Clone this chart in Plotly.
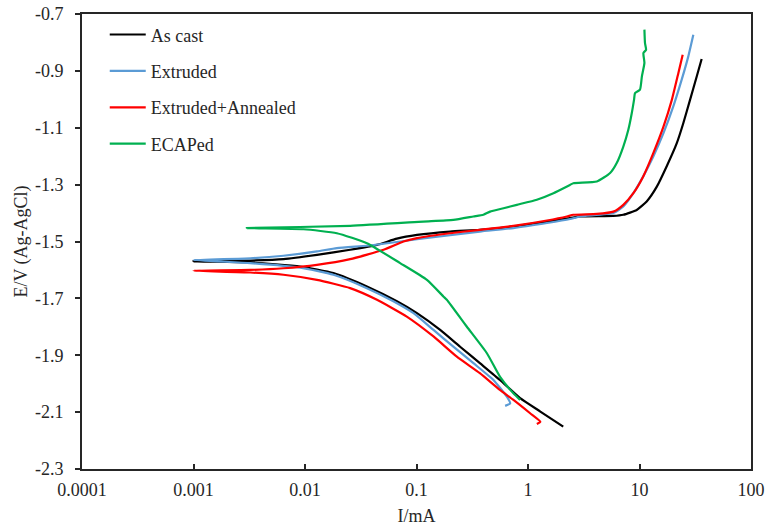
import plotly.graph_objects as go

# ---------------- data (current in mA, potential in V vs Ag-AgCl) ----------------
series_names = ["As cast", "Extruded", "Extruded+Annealed", "ECAPed"]
series_colors = ["#000000", "#5B9BD5", "#FF0000", "#00B050"]

as_cast_i = [2.07, 1.29, 0.85, 0.56, 0.37, 0.246, 0.163, 0.101, 0.0667, 0.0359, 0.018,
             0.00906, 0.00323, 0.001,
             0.00323, 0.00641, 0.0128, 0.0254, 0.0442, 0.0667, 0.101, 0.2, 0.37, 0.74,
             1.48, 2.38, 2.93, 5.83, 7.16, 9.44, 11.6, 14.3, 17.5, 21.6, 24.7, 28.4,
             32.6, 36.1]
as_cast_e = [-2.151, -2.098, -2.051, -1.987, -1.928, -1.870, -1.811, -1.752, -1.710,
             -1.658, -1.611, -1.588, -1.574, -1.570,
             -1.567, -1.562, -1.547, -1.529, -1.512, -1.490, -1.477, -1.465, -1.459,
             -1.447, -1.430, -1.418, -1.412, -1.410, -1.406, -1.389, -1.359, -1.307,
             -1.236, -1.154, -1.084, -1.002, -0.920, -0.858]

extruded_i = [0.624, 0.692, 0.646, 0.49, 0.324, 0.214, 0.142, 0.094, 0.062, 0.0359,
              0.018, 0.00906, 0.00323, 0.001,
              0.00323, 0.00641, 0.0128, 0.0193, 0.0359, 0.0506, 0.101, 0.2, 0.37,
              0.74, 1.48, 2.38, 2.93, 5.83, 7.16, 8.81, 10.8, 13.3, 16.4, 20.1, 23.9,
              27.4, 30.4]
extruded_e = [-2.078, -2.069, -2.046, -1.987, -1.928, -1.870, -1.811, -1.752, -1.710,
              -1.664, -1.617, -1.592, -1.576, -1.565,
              -1.559, -1.550, -1.535, -1.523, -1.515, -1.508, -1.492, -1.478, -1.465,
              -1.453, -1.435, -1.421, -1.412, -1.400, -1.377, -1.330, -1.271, -1.201,
              -1.119, -1.025, -0.931, -0.849, -0.773]

annealed_i = [1.2, 1.29, 1.045, 0.74, 0.56, 0.37, 0.23, 0.142, 0.0818, 0.0442, 0.0254,
              0.0128, 0.00641, 0.00323, 0.001,
              0.00323, 0.00641, 0.0128, 0.0254, 0.0506, 0.0764, 0.101, 0.2, 0.37,
              0.74, 1.48, 2.23, 2.55, 4.14, 5.83, 7.16, 8.81, 10.8, 13.3, 16.4, 19.5,
              22.3, 24.4]
annealed_e = [-2.142, -2.134, -2.104, -2.057, -2.022, -1.963, -1.905, -1.834, -1.764,
              -1.705, -1.664, -1.635, -1.617, -1.609, -1.603,
              -1.600, -1.594, -1.582, -1.562, -1.529, -1.500, -1.488, -1.471, -1.459,
              -1.445, -1.426, -1.412, -1.406, -1.403, -1.395, -1.371, -1.330, -1.271,
              -1.189, -1.096, -1.002, -0.908, -0.843]

ecaped_i = [0.85, 0.74, 0.56, 0.428, 0.282, 0.187, 0.175, 0.124, 0.0713, 0.0359,
            0.0193, 0.0097, 0.00301,
            0.0254, 0.115, 0.214, 0.324, 0.398, 0.457, 0.603, 0.794, 1.2, 1.69, 2.38,
            2.55, 4.14, 5.45, 6.25, 7.16, 7.94, 8.53, 8.93, 9.12, 10.1, 10.5, 11.07,
            10.84, 11.45, 11.2, 11.07]
ecaped_e = [-2.057, -2.034, -1.975, -1.893, -1.799, -1.705, -1.694, -1.635, -1.576,
            -1.506, -1.471, -1.457, -1.453,
            -1.445, -1.430, -1.424, -1.412, -1.406, -1.395, -1.383, -1.371, -1.353,
            -1.330, -1.301, -1.295, -1.289, -1.259, -1.224, -1.166, -1.107, -1.048,
            -1.002, -0.978, -0.966, -0.920, -0.872, -0.837, -0.826, -0.802, -0.755]

x_tick_vals = [0.0001, 0.001, 0.01, 0.1, 1, 10, 100]
x_tick_text = ["0.0001", "0.001", "0.01", "0.1", "1", "10", "100"]
y_tick_vals = [-2.3, -2.1, -1.9, -1.7, -1.5, -1.3, -1.1, -0.9, -0.7]
y_tick_text = ["-2.3", "-2.1", "-1.9", "-1.7", "-1.5", "-1.3", "-1.1", "-0.9", "-0.7"]

# ---------------- figure ----------------
FONT = "Liberation Serif, Times New Roman, serif"
TXT = "#262626"

xs = [as_cast_i, extruded_i, annealed_i, ecaped_i]
ys = [as_cast_e, extruded_e, annealed_e, ecaped_e]

fig = go.Figure()
for k in range(4):
    fig.add_trace(go.Scatter(
        x=xs[k], y=ys[k], mode="lines", name=series_names[k],
        legendgroup=f"g{k}",
        line=dict(color=series_colors[k], width=2.2, shape="spline", smoothing=0.5),
    ))

fig.update_layout(
    width=766, height=527,
    margin=dict(l=82, r=15, t=14, b=58, autoexpand=False),
    paper_bgcolor="white", plot_bgcolor="white",
    font=dict(family=FONT, size=18, color=TXT),
    showlegend=True,
    legend=dict(
        x=0.034, y=0.995, xanchor="left", yanchor="top",
        bgcolor="rgba(0,0,0,0)", borderwidth=0,
        font=dict(family=FONT, size=18, color=TXT),
        tracegroupgap=10, itemwidth=36,
    ),
    xaxis=dict(
        type="log", range=[-4, 2], automargin=False,
        tickvals=x_tick_vals, ticktext=x_tick_text,
        ticks="inside", ticklen=5, tickwidth=1.5, tickcolor="#262626",
        showline=True, linecolor="#262626", linewidth=1.8, mirror=True,
        showgrid=False, zeroline=False,
        ticklabelstandoff=3,
        title=dict(text="I/mA", font=dict(family=FONT, size=18, color=TXT), standoff=11),
    ),
    yaxis=dict(
        range=[-2.3, -0.7], automargin=False,
        tickvals=y_tick_vals, ticktext=y_tick_text,
        ticks="outside", ticklen=5, tickwidth=1.5, tickcolor="#262626",
        showline=True, linecolor="#262626", linewidth=1.8, mirror=True,
        showgrid=False, zeroline=False,
        ticklabelstandoff=8,
        title=dict(text="E/V (Ag-AgCl)", font=dict(family=FONT, size=18, color=TXT), standoff=3),
    ),
)

fig.write_html(
    "out.html",
    config={"displayModeBar": False},
    post_script="document.body.style.margin='0';document.body.style.padding='0';",
)
